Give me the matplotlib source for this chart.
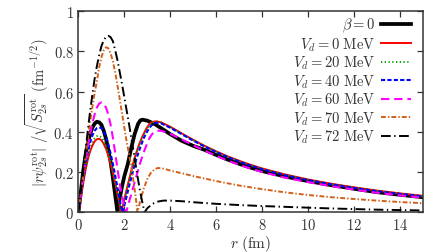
import matplotlib
matplotlib.use("Agg")
import matplotlib.pyplot as plt
from matplotlib.ticker import FuncFormatter

plt.rcParams['mathtext.fontset'] = 'cm'
plt.rcParams['font.family'] = ['DejaVu Serif']
plt.rcParams['lines.scale_dashes'] = False

# ---- data ----
r_beta0 = [0, 0.1, 0.2, 0.3, 0.4, 0.5, 0.6, 0.7, 0.8, 0.9, 1.0, 1.1, 1.2, 1.3, 1.4, 1.5, 1.6, 1.7,
           1.8, 1.9, 2.0, 2.15, 2.3, 2.45, 2.6, 2.7, 2.8, 3.0, 3.3, 3.6, 4.0, 4.5, 5.0, 5.5, 6.0, 6.5,
           7.0, 7.5, 8.0, 9.0, 10.0, 11.0, 12.0, 13.0, 14.0, 15.0]
v_beta0 = [0, 0.10, 0.20, 0.28, 0.34, 0.385, 0.42, 0.44, 0.45, 0.447, 0.435, 0.405, 0.365, 0.31, 0.25,
           0.17, 0.085, 0.0,
           0.07, 0.13, 0.18, 0.24, 0.32, 0.39, 0.44, 0.457, 0.46, 0.455, 0.44, 0.418, 0.388, 0.355,
           0.33, 0.31, 0.285, 0.262, 0.241, 0.222, 0.205, 0.178, 0.155, 0.135, 0.117, 0.100, 0.087, 0.075]

r_vd0 = [0, 0.1, 0.2, 0.3, 0.4, 0.5, 0.6, 0.7, 0.8, 0.9, 1.0, 1.1, 1.2, 1.3, 1.4, 1.5, 1.6, 1.7, 1.8, 1.86,
         1.95, 2.05, 2.2, 2.35, 2.5, 2.65, 2.8, 2.95, 3.1, 3.25, 3.4, 3.6, 4.0, 4.5, 5.0, 5.5, 6.0, 6.5,
         7.0, 7.5, 8.0, 9.0, 10.0, 11.0, 12.0, 13.0, 14.0, 15.0]
v_vd0 = [0, 0.07, 0.14, 0.205, 0.26, 0.30, 0.33, 0.352, 0.363, 0.365, 0.358, 0.34, 0.315, 0.28, 0.24,
         0.195, 0.145, 0.09, 0.035, 0.0,
         0.04, 0.09, 0.16, 0.23, 0.29, 0.34, 0.38, 0.415, 0.44, 0.45, 0.452, 0.447, 0.425, 0.392, 0.36,
         0.33, 0.303, 0.278, 0.256, 0.236, 0.218, 0.188, 0.163, 0.142, 0.124, 0.108, 0.094, 0.082]

r_vd20 = [0, 0.1, 0.2, 0.3, 0.4, 0.5, 0.6, 0.7, 0.8, 0.9, 1.0, 1.1, 1.2, 1.3, 1.4, 1.5, 1.6, 1.7, 1.8, 1.87,
          1.95, 2.05, 2.2, 2.35, 2.5, 2.65, 2.8, 2.95, 3.1, 3.25, 3.4, 3.6, 4.0, 4.5, 5.0, 5.5, 6.0, 6.5,
          7.0, 7.5, 8.0, 9.0, 10.0, 11.0, 12.0, 13.0, 14.0, 15.0]
v_vd20 = [0, 0.075, 0.15, 0.215, 0.27, 0.315, 0.345, 0.367, 0.378, 0.38, 0.373, 0.355, 0.328, 0.292,
          0.25, 0.203, 0.15, 0.095, 0.038, 0.0,
          0.035, 0.085, 0.155, 0.225, 0.285, 0.335, 0.375, 0.41, 0.435, 0.447, 0.45, 0.445, 0.423, 0.39,
          0.358, 0.328, 0.301, 0.276, 0.254, 0.234, 0.216, 0.186, 0.161, 0.14, 0.122, 0.106, 0.092, 0.08]

r_vd40 = [0, 0.1, 0.2, 0.3, 0.4, 0.5, 0.6, 0.7, 0.8, 0.9, 1.0, 1.1, 1.2, 1.3, 1.4, 1.5, 1.6, 1.7, 1.8, 1.92,
          2.0, 2.1, 2.25, 2.4, 2.55, 2.7, 2.85, 3.0, 3.15, 3.3, 3.45, 3.6, 4.0, 4.5, 5.0, 5.5, 6.0, 6.5,
          7.0, 7.5, 8.0, 9.0, 10.0, 11.0, 12.0, 13.0, 14.0, 15.0]
v_vd40 = [0, 0.08, 0.16, 0.235, 0.295, 0.345, 0.38, 0.405, 0.418, 0.422, 0.418, 0.402, 0.375, 0.338,
          0.292, 0.24, 0.183, 0.122, 0.06, 0.0,
          0.035, 0.08, 0.15, 0.215, 0.275, 0.325, 0.37, 0.403, 0.428, 0.442, 0.445, 0.442, 0.42, 0.388,
          0.356, 0.326, 0.299, 0.274, 0.252, 0.232, 0.214, 0.184, 0.16, 0.139, 0.121, 0.105, 0.091, 0.079]

r_vd60 = [0, 0.1, 0.2, 0.3, 0.4, 0.5, 0.6, 0.7, 0.8, 0.9, 1.0, 1.1, 1.2, 1.3, 1.4, 1.5, 1.6, 1.7, 1.8, 1.9,
          2.0, 2.08, 2.2, 2.35, 2.5, 2.65, 2.8, 2.95, 3.1, 3.25, 3.4, 3.6, 3.8, 4.0, 4.5, 5.0, 5.5, 6.0,
          6.5, 7.0, 7.5, 8.0, 9.0, 10.0, 11.0, 12.0, 13.0, 14.0, 15.0]
v_vd60 = [0, 0.085, 0.17, 0.25, 0.32, 0.385, 0.44, 0.485, 0.52, 0.54, 0.546, 0.54, 0.52, 0.485, 0.435,
          0.37, 0.295, 0.215, 0.14, 0.08, 0.03, 0.0,
          0.05, 0.11, 0.17, 0.23, 0.285, 0.33, 0.37, 0.395, 0.405, 0.405, 0.398, 0.39, 0.362, 0.333,
          0.306, 0.28, 0.257, 0.236, 0.217, 0.2, 0.172, 0.15, 0.13, 0.113, 0.097, 0.084, 0.072]

r_vd70 = [0, 0.1, 0.2, 0.3, 0.4, 0.5, 0.6, 0.7, 0.8, 0.9, 1.0, 1.1, 1.2, 1.3, 1.4, 1.5, 1.6, 1.7, 1.8, 1.9,
          2.0, 2.1, 2.2, 2.3, 2.4, 2.5, 2.57, 2.7, 2.85, 3.0, 3.15, 3.3, 3.45, 3.6, 3.8, 4.0, 4.5, 5.0,
          6.0, 7.0, 8.0, 9.0, 10.0, 11.0, 12.0, 13.0, 14.0, 15.0]
v_vd70 = [0, 0.09, 0.18, 0.27, 0.36, 0.445, 0.52, 0.59, 0.65, 0.72, 0.77, 0.805, 0.82, 0.815, 0.79,
          0.75, 0.695, 0.63, 0.56, 0.49, 0.42, 0.35, 0.29, 0.23, 0.15, 0.07, 0.0,
          0.06, 0.12, 0.165, 0.195, 0.212, 0.22, 0.219, 0.214, 0.207, 0.194, 0.18,
          0.155, 0.133, 0.115, 0.099, 0.086, 0.075, 0.066, 0.058, 0.051, 0.045]

r_vd72 = [0, 0.1, 0.2, 0.3, 0.4, 0.5, 0.6, 0.7, 0.8, 0.9, 1.0, 1.1, 1.2, 1.3, 1.4, 1.5, 1.6, 1.7, 1.8, 1.9,
          2.0, 2.1, 2.2, 2.3, 2.4, 2.5, 2.6, 2.7, 2.8, 2.88, 3.0, 3.2, 3.4, 3.7, 4.0, 4.5, 5.0, 6.0,
          7.0, 8.0, 9.0, 10.0, 11.0, 12.0, 13.0, 14.0, 15.0]
v_vd72 = [0, 0.1, 0.2, 0.3, 0.4, 0.495, 0.58, 0.66, 0.725, 0.78, 0.825, 0.855, 0.872, 0.877, 0.87,
          0.85, 0.805, 0.755, 0.695, 0.635, 0.57, 0.505, 0.44, 0.37, 0.3, 0.23, 0.16, 0.095, 0.04, 0.0,
          0.02, 0.04, 0.052, 0.058, 0.058, 0.055, 0.05, 0.042, 0.036, 0.031, 0.027, 0.023, 0.019,
          0.016, 0.013, 0.011, 0.009]

labels = [r'$\beta = 0$', r'$V_d = 0\ \mathrm{MeV}$', r'$V_d = 20\ \mathrm{MeV}$',
          r'$V_d = 40\ \mathrm{MeV}$', r'$V_d = 60\ \mathrm{MeV}$', r'$V_d = 70\ \mathrm{MeV}$',
          r'$V_d = 72\ \mathrm{MeV}$']
x_ticks = [0, 2, 4, 6, 8, 10, 12, 14]
y_ticks = [0, 0.2, 0.4, 0.6, 0.8, 1.0]

fig = plt.figure(figsize=(4.36, 2.53), dpi=100)
ax = fig.add_axes([0.180, 0.157, 0.7895, 0.7955])

ax.plot(r_beta0, v_beta0, color='black', lw=2.7, label=labels[0], solid_joinstyle='round')
ax.plot(r_vd0, v_vd0, color='#ff0000', lw=1.4, label=labels[1])
ax.plot(r_vd20, v_vd20, color='#00a000', lw=1.4, dashes=(0.9, 1.8), label=labels[2])
ax.plot(r_vd40, v_vd40, color='#0000ff', lw=1.5, dashes=(3.0, 1.6), label=labels[3])
ax.plot(r_vd60, v_vd60, color='#ff00ff', lw=1.5, dashes=(6.0, 3.5), label=labels[4])
ax.plot(r_vd70, v_vd70, color='#d2601a', lw=1.4, dashes=(3.5, 1.5, 1.0, 1.5), label=labels[5])
ax.plot(r_vd72, v_vd72, color='black', lw=1.4, dashes=(7.0, 2.5, 1.0, 2.5), label=labels[6])

ax.set_xlim(0, 15)
ax.set_ylim(0, 1)
ax.set_xticks(x_ticks)
ax.set_yticks(y_ticks)
fmt = FuncFormatter(lambda v, p: '$%g$' % v)
ax.xaxis.set_major_formatter(fmt)
ax.yaxis.set_major_formatter(fmt)
ax.tick_params(direction='in', length=4.5, width=0.9, top=True, right=True,
               labelsize=10.5, colors='#333333', pad=3.5)
for s in ax.spines.values():
    s.set_linewidth(1.1)
    s.set_color('#333333')

ax.set_xlabel(r'$r\ (\mathrm{fm})$', fontsize=11, color='#333333', labelpad=0.5)
ax.set_ylabel(r'$|r\psi_{2s}^{\mathrm{rot}}|\ /\sqrt{S_{2s}^{\mathrm{rot}}}\ (\mathrm{fm}^{-1/2})$',
              fontsize=10.5, color='#333333', labelpad=2)

leg = ax.legend(loc='upper right', frameon=False, markerfirst=False, fontsize=10.5,
                handlelength=2.05, handletextpad=0.4, labelspacing=0.07,
                borderaxespad=0.0, borderpad=0.0, bbox_to_anchor=(0.966, 0.975))
for t in leg.get_texts():
    t.set_color('#333333')

fig.savefig('out.png', dpi=100)
